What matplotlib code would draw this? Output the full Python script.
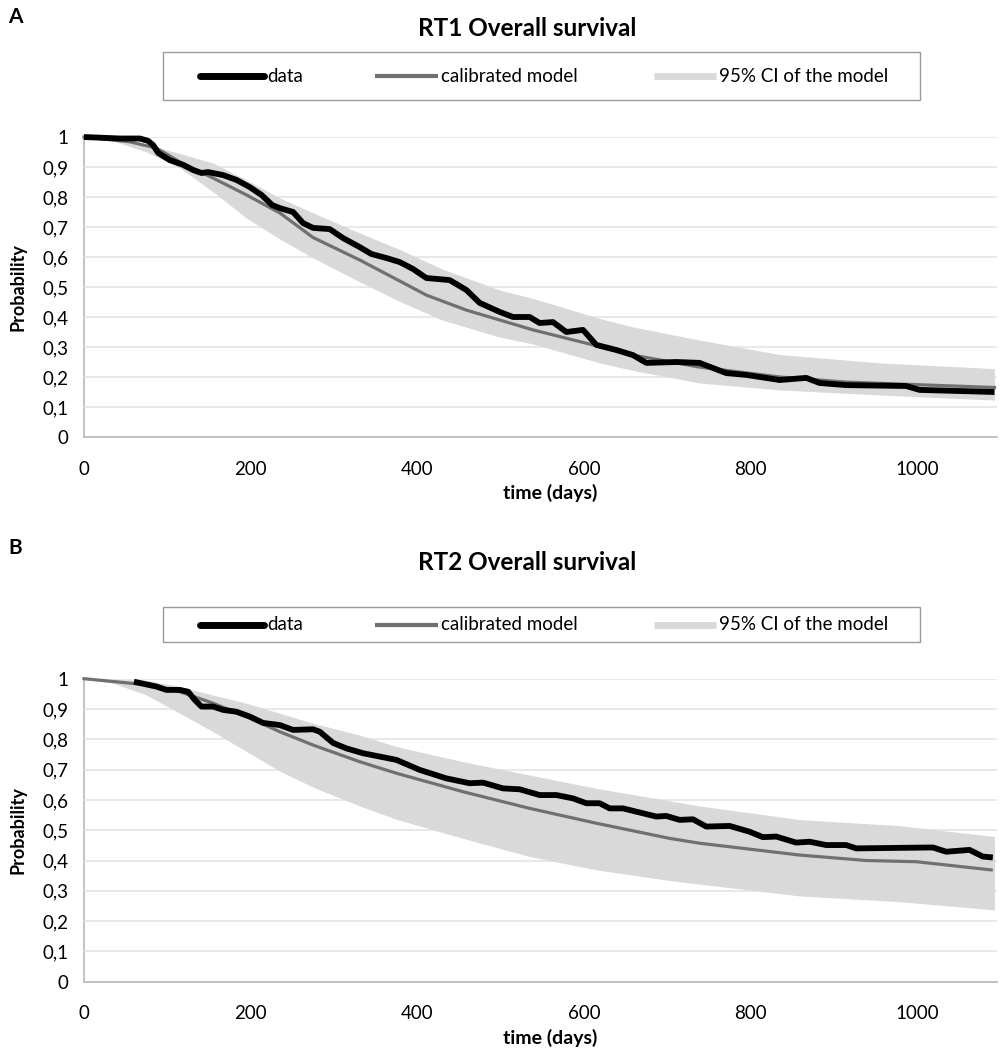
import matplotlib
matplotlib.use("Agg")
import matplotlib.pyplot as plt
from matplotlib.lines import Line2D
from matplotlib.patches import Rectangle

plt.rcParams['font.family'] = ['Lato', 'DejaVu Sans']

# ---------------- Panel A: RT1 ----------------
a_data_days = [0, 43, 67, 77, 83, 89, 103, 119, 131, 141, 149, 167, 183, 199, 213, 226, 235, 251,
               263, 275, 295, 311, 331, 345, 365, 379, 395, 411, 439, 459, 475, 499, 515, 535,
               547, 563, 579, 599, 615, 639, 659, 675, 711, 739, 771, 795, 835, 867, 883, 915,
               987, 1003, 1093]
a_data_prob = [1.0, 0.995, 0.995, 0.987, 0.973, 0.947, 0.923, 0.907, 0.89, 0.88, 0.883, 0.873,
               0.857, 0.833, 0.807, 0.773, 0.763, 0.75, 0.713, 0.697, 0.693, 0.663, 0.633, 0.61,
               0.595, 0.583, 0.56, 0.53, 0.523, 0.49, 0.447, 0.417, 0.4, 0.4, 0.38, 0.383, 0.35,
               0.357, 0.307, 0.29, 0.273, 0.247, 0.25, 0.247, 0.213, 0.207, 0.19, 0.197, 0.18,
               0.173, 0.17, 0.157, 0.15]

a_model_days = [0, 55, 87, 115, 155, 195, 235, 275, 331, 379, 411, 459, 539, 611, 659, 739, 835,
                915, 1093]
a_model_prob = [1.0, 0.984, 0.963, 0.917, 0.863, 0.807, 0.747, 0.665, 0.59, 0.52, 0.473, 0.423,
                0.357, 0.307, 0.273, 0.233, 0.2, 0.183, 0.165]

a_ci_days = [0, 35, 75, 115, 155, 195, 235, 275, 331, 379, 430, 499, 539, 619, 659, 739, 835,
             955, 1093]
a_ci_upper = [1.0, 0.995, 0.975, 0.945, 0.913, 0.857, 0.797, 0.747, 0.68, 0.625, 0.56, 0.49,
              0.462, 0.395, 0.367, 0.323, 0.275, 0.247, 0.228]
a_ci_lower = [1.0, 0.987, 0.95, 0.897, 0.817, 0.73, 0.66, 0.597, 0.517, 0.452, 0.39, 0.333,
              0.31, 0.247, 0.222, 0.18, 0.157, 0.14, 0.123]

# ---------------- Panel B: RT2 ----------------
b_data_days = [60, 87, 99, 115, 125, 133, 141, 155, 167, 183, 199, 215, 235, 251, 275, 283, 299,
               315, 335, 375, 403, 435, 463, 479, 503, 523, 547, 567, 587, 603, 619, 631, 647,
               687, 699, 715, 731, 747, 775, 799, 815, 831, 855, 871, 891, 915, 927, 1019, 1035,
               1063, 1079, 1091]
b_data_prob = [0.99, 0.974, 0.963, 0.963, 0.957, 0.93, 0.908, 0.908, 0.897, 0.891, 0.875, 0.854,
               0.847, 0.831, 0.833, 0.825, 0.788, 0.77, 0.754, 0.732, 0.699, 0.671, 0.655, 0.657,
               0.638, 0.635, 0.616, 0.616, 0.605, 0.589, 0.589, 0.572, 0.572, 0.545, 0.547,
               0.534, 0.536, 0.512, 0.514, 0.495, 0.477, 0.479, 0.459, 0.462, 0.451, 0.451,
               0.44, 0.443, 0.429, 0.435, 0.413, 0.41]

b_model_days = [0, 75, 115, 155, 195, 235, 275, 331, 375, 455, 535, 615, 703, 739, 859, 939,
                999, 1089]
b_model_prob = [1.0, 0.98, 0.957, 0.919, 0.875, 0.825, 0.781, 0.726, 0.688, 0.627, 0.572, 0.523,
                0.473, 0.457, 0.418, 0.4, 0.396, 0.369]

b_ci_days = [0, 35, 75, 115, 155, 195, 235, 275, 331, 375, 455, 535, 615, 703, 739, 859, 979,
             1093]
b_ci_upper = [1.0, 0.998, 0.995, 0.974, 0.946, 0.919, 0.886, 0.853, 0.814, 0.776, 0.726, 0.682,
              0.638, 0.597, 0.58, 0.535, 0.515, 0.479]
b_ci_lower = [1.0, 0.985, 0.946, 0.886, 0.825, 0.76, 0.695, 0.642, 0.58, 0.536, 0.473, 0.413,
              0.369, 0.334, 0.322, 0.283, 0.264, 0.237]

x_ticks = [0, 200, 400, 600, 800, 1000]
y_ticks = [0, 0.1, 0.2, 0.3, 0.4, 0.5, 0.6, 0.7, 0.8, 0.9, 1.0]
y_labels = ['0', '0,1', '0,2', '0,3', '0,4', '0,5', '0,6', '0,7', '0,8', '0,9', '1']

BAND = '#d9d9d9'
MODEL = '#707070'
GRID = '#e6e6e6'
SPINE = '#bdbdbd'

W, H = 1003, 1050
fig = plt.figure(figsize=(W / 100, H / 100), dpi=100)


def fx(px):
    return px / W


def fy(py):
    return 1 - py / H


def panel(top_px, bottom_px, letter, title, letter_y, title_y, leg_top, leg_bot,
          days, prob, mdays, mprob, cdays, cup, clo):
    ax = fig.add_axes([fx(84), fy(bottom_px), fx(997) - fx(84), (bottom_px - top_px) / H])
    ax.fill_between(cdays, clo, cup, color=BAND, lw=0, zorder=2, clip_on=False)
    ax.plot(mdays, mprob, color=MODEL, lw=2.3, zorder=3, clip_on=False,
            solid_joinstyle='round')
    ax.plot(days, prob, color='black', lw=4.2, zorder=4, clip_on=False,
            solid_joinstyle='round', solid_capstyle='butt')
    ax.set_xlim(0, 1096)
    ax.set_ylim(0, 1)
    ax.set_xticks(x_ticks)
    ax.set_xticklabels([str(t) for t in x_ticks])
    ax.set_yticks(y_ticks)
    ax.set_yticklabels(y_labels)
    ax.tick_params(axis='x', length=0, pad=17, labelsize=13.5)
    ax.tick_params(axis='y', length=0, pad=11, labelsize=13.5)
    for t in y_ticks[1:]:
        ax.axhline(t, color=GRID, lw=1.3, zorder=1)
    for s in ['top', 'right']:
        ax.spines[s].set_visible(False)
    ax.spines['left'].set_color(SPINE)
    ax.spines['bottom'].set_color(SPINE)
    ax.spines['left'].set_linewidth(1.3)
    ax.spines['bottom'].set_linewidth(1.3)
    ax.spines['left'].set_zorder(0.5)

    # axis titles
    fig.text(fx(550), fy(bottom_px + 56), 'time (days)', ha='center', va='center',
             fontsize=14, fontweight='bold')
    fig.text(fx(18), fy((top_px + bottom_px) / 2), 'Probability', ha='center', va='center',
             rotation=90, fontsize=13, fontweight='bold')

    # panel letter and title
    fig.text(fx(8), fy(letter_y), letter, ha='left', va='center', fontsize=15,
             fontweight='bold')
    fig.text(fx(527), fy(title_y), title, ha='center', va='center', fontsize=17.5,
             fontweight='bold')

    # legend box
    fig.add_artist(Rectangle((fx(163), fy(leg_bot)), fx(920) - fx(163), (leg_bot - leg_top) / H,
                             transform=fig.transFigure, fill=False, edgecolor='#9a9a9a',
                             lw=1.0))
    ly = fy((leg_top + leg_bot) / 2)
    items = [(200, 264, 'black', 5.0, 'round', 'data'),
             (375, 438, MODEL, 3.0, 'butt', 'calibrated model'),
             (654, 716, BAND, 5.0, 'butt', '95% CI of the model')]
    for x0, x1, col, lw, cap, lab in items:
        fig.add_artist(Line2D([fx(x0), fx(x1)], [ly, ly], transform=fig.transFigure,
                              color=col, lw=lw, solid_capstyle=cap))
        fig.text(fx(x1 + 3), ly, lab, ha='left', va='center', fontsize=13.5)
    return ax


panel(137, 437, 'A', 'RT1 Overall survival', 17, 28, 52, 100,
      a_data_days, a_data_prob, a_model_days, a_model_prob, a_ci_days, a_ci_upper, a_ci_lower)
panel(678.7, 981.7, 'B', 'RT2 Overall survival', 548, 563, 607, 642,
      b_data_days, b_data_prob, b_model_days, b_model_prob, b_ci_days, b_ci_upper, b_ci_lower)

fig.savefig('out.png', dpi=100, facecolor='white')
